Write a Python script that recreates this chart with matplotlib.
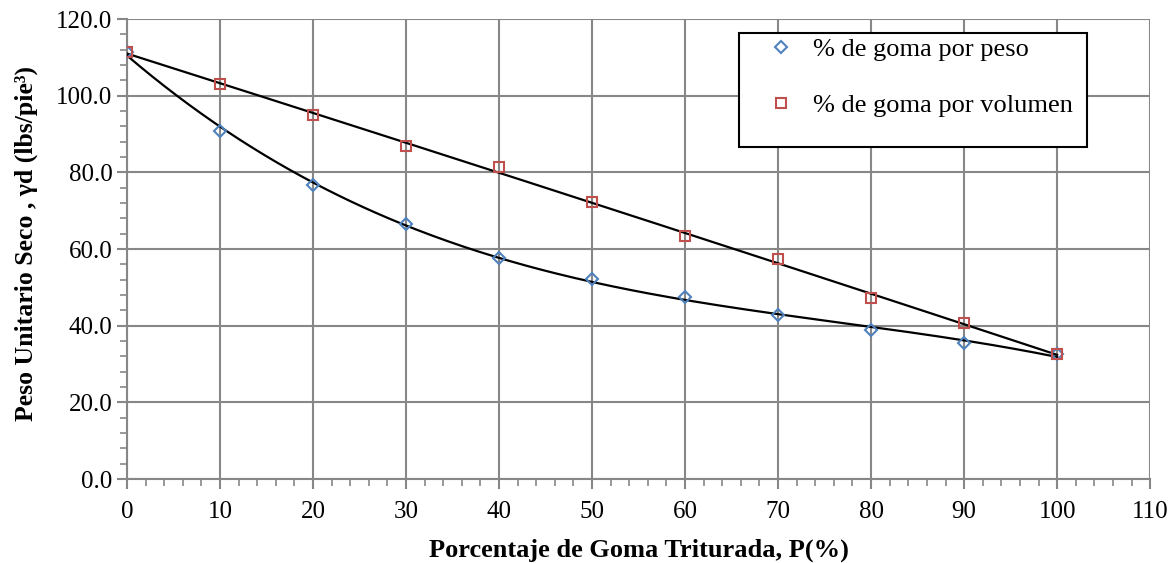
import numpy as np
import matplotlib
matplotlib.use("Agg")
import matplotlib.pyplot as plt
from matplotlib.ticker import MultipleLocator, FormatStrFormatter
from matplotlib.patches import Rectangle

# Data
porcentaje = [0, 10, 20, 30, 40, 50, 60, 70, 80, 90, 100]
peso = [111.4, 90.8, 76.8, 66.5, 57.7, 52.2, 47.5, 42.8, 38.9, 35.5, 32.6]
volumen = [111.4, 103.0, 95.1, 87.0, 81.4, 72.3, 63.3, 57.4, 47.2, 40.6, 32.6]

label_peso = "% de goma por peso"
label_vol = "% de goma por volumen"
xlabel = "Porcentaje de Goma Triturada, P(%)"
ylabel = "Peso Unitario Seco , \u03b3d (lbs/pie\u00b3)"

plt.rcParams['font.family'] = ['Liberation Serif', 'DejaVu Serif']

fig = plt.figure(figsize=(11.76, 5.63), dpi=100)
ax = fig.add_axes([0.108, 0.149, 0.870, 0.817])

blue = '#4F81BD'
red = '#C0504D'
grid_c = '#878787'

x = np.array(porcentaje, dtype=float)
xs = np.linspace(0, 100, 300)
c_peso = np.polyfit(x, peso, 3)
c_vol = np.polyfit(x, volumen, 2)
ax.plot(xs, np.polyval(c_peso, xs), color='black', lw=1.6, zorder=3)
ax.plot(xs, np.polyval(c_vol, xs), color='black', lw=1.6, zorder=3)

ax.plot(x, peso, linestyle='none', marker='D', markersize=6.5, markerfacecolor='none',
        markeredgecolor=blue, markeredgewidth=1.5, label=label_peso, zorder=4)
ax.plot(x, volumen, linestyle='none', marker='s', markersize=6.5, markerfacecolor='none',
        markeredgecolor=red, markeredgewidth=1.5, label=label_vol, zorder=4)

ax.set_xlim(0, 110)
ax.set_ylim(0, 120)
ax.xaxis.set_major_locator(MultipleLocator(10))
ax.xaxis.set_minor_locator(MultipleLocator(2))
ax.yaxis.set_major_locator(MultipleLocator(20))
ax.yaxis.set_minor_locator(MultipleLocator(4))
ax.yaxis.set_major_formatter(FormatStrFormatter('%.1f'))

ax.grid(True, which='major', color=grid_c, lw=1.5)
for s in ['top', 'right']:
    ax.spines[s].set_visible(False)
for s in ['left', 'bottom']:
    ax.spines[s].set_color(grid_c)
    ax.spines[s].set_linewidth(1.5)
ax.tick_params(which='major', direction='out', length=7, width=1.5, color=grid_c,
               labelsize=18, labelcolor='black')
ax.tick_params(which='minor', direction='out', length=5, width=1.2, color=grid_c)
ax.tick_params(axis='x', pad=9)

ax.set_xlabel(xlabel, fontsize=19, fontweight='bold', labelpad=11)
ax.set_ylabel(ylabel, fontsize=18.5, fontweight='bold')
ax.yaxis.set_label_coords(-0.087, 0.513)

# legend box
box = Rectangle((0.598, 0.722), 0.340, 0.248, transform=ax.transAxes,
                facecolor='white', edgecolor='black', linewidth=1.5, zorder=5,
                clip_on=False)
ax.add_patch(box)

leg = ax.legend(loc='upper left', bbox_to_anchor=(0.6237, 0.9605), fontsize=19,
                frameon=False, labelspacing=1.24, handletextpad=0.6, borderpad=0,
                borderaxespad=0, handlelength=1.2)
leg.set_zorder(6)

fig.savefig('out.png', dpi=100)
